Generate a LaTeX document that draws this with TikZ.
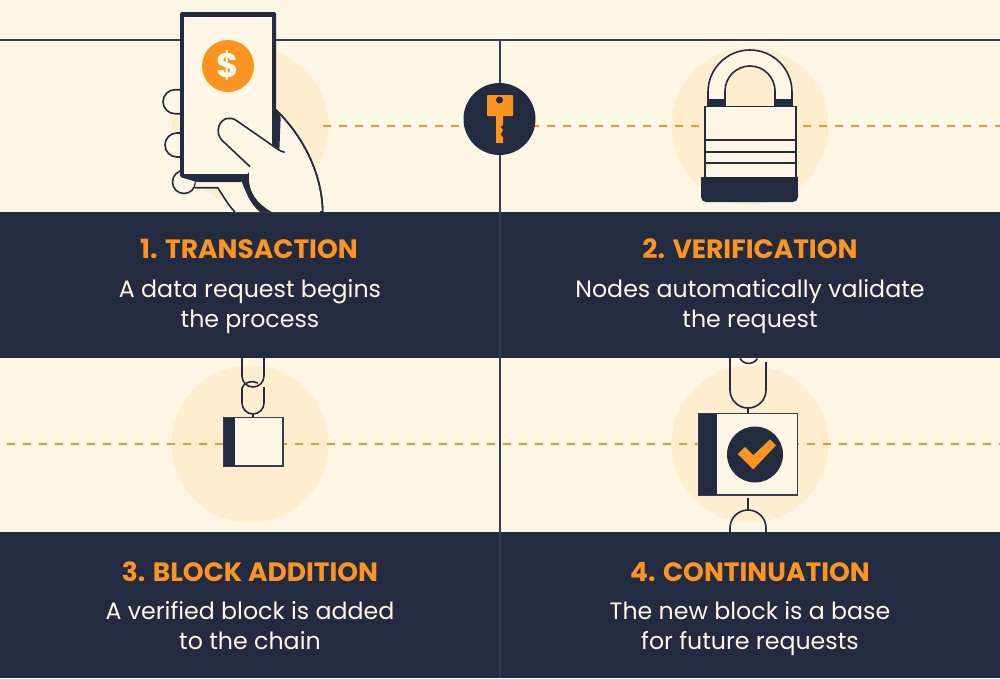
\documentclass[tikz,border=0pt]{standalone}
\usepackage{fontspec}
\setmainfont{Poppins}
\definecolor{paper}{HTML}{FFF6E5}
\definecolor{halo}{HTML}{FEEECF}
\definecolor{navy}{HTML}{222B40}
\definecolor{amber}{HTML}{FB9420}
\definecolor{rule}{HTML}{323C55}
\tikzset{
  ink/.style={draw=navy, line width=1.6pt, fill=none},
  haloDisc/.style={circle, fill=halo, minimum size=157pt, inner sep=0pt},
  panel/.style={fill=navy},
  dashline/.style={amber, line width=2pt, dash pattern=on 8pt off 8pt},
  steptitle/.style={text=amber, font=\bfseries\fontsize{26.5}{26.5}\selectfont},
  stepbody/.style={text=paper, align=center, font=\fontsize{23.7}{30}\selectfont}
}
\begin{document}
\begin{tikzpicture}[x=1pt,y=-1pt]
\useasboundingbox (0,0) rectangle (1000,678);
\fill[paper] (0,0) rectangle (1000,678);
% background discs
\node[haloDisc] (haloA) at (250,126) {};
\node[haloDisc] (haloB) at (750,126) {};
\node[haloDisc] (haloC) at (250,444) {};
\node[haloDisc] (haloD) at (750,444) {};
% rules
\draw[rule, line width=2pt] (0,39.5) -- (1000,39.5);
\draw[dashline] (323,126) -- (1000,126);
\draw[dashline] (7,444) -- (1000,444);
% panels
\foreach \y in {212,532} {
    \fill[panel] (0,\y) rectangle (1000,\y+146);
}
\draw[rule, line width=2pt] (500,39) -- (500,678);
% hand behind the phone
\draw[ink, fill=paper] (163,101.7) arc[radius=12, start angle=180, end angle=270] -- (182,89.7) -- (182,113.7) -- (175,113.7) arc[radius=12, start angle=90, end angle=180];
\draw[ink, fill=paper] (165,145) arc[radius=12, start angle=180, end angle=270] -- (182,133) -- (182,157) -- (177,157) arc[radius=12, start angle=90, end angle=180];
\draw[ink, fill=paper] (184,182) circle[radius=11.5];
\fill[paper] (196,181) -- (243,181) -- (272,212) -- (235,212) -- (218,188) -- (195,188) -- cycle;
\draw[ink] (195,187.7) -- (217.7,187.7) .. controls (224,197) and (228,205) .. (235,212);
\draw[ink, fill=paper] (276,110) .. controls (300,133) and (322,170) .. (322.7,212) -- (270,212) -- (250,170) -- cycle;
% phone
\fill[navy, rounded corners=1.5pt] (180,12) -- (276,12) -- (276,110) -- (280.7,116.7) -- (279.3,152) -- (272,146) -- (242,182) -- (197,182) -- (180,177) -- cycle;
\fill[paper] (184,17) rectangle (272,174);
\node[circle, fill=amber, minimum size=52pt, inner sep=0pt, text=paper, font=\bfseries\fontsize{34}{34}\selectfont] (coin) at (228,66) {\$};
% thumb and palm
\fill[navy] (241.7,181.7) -- (249,172) .. controls (248,192) and (256,202) .. (271.7,212) -- (260,212) .. controls (250,204) and (246,192) .. (241.7,181.7) -- cycle;
\fill[paper] (284.7,152.3) -- (271.7,145) -- (236.7,120.7) .. controls (230,116) and (222,118) .. (219,126) .. controls (217,132) and (219,137) .. (221.7,140) -- (250,166.7) -- (249.3,175) .. controls (248,192) and (256,202) .. (271.7,212) -- (320,212) -- (300,150) -- cycle;
\draw[ink] (284.7,152.3) .. controls (279,151) and (276,148) .. (271.7,145) -- (236.7,120.7) .. controls (230,116) and (222,118) .. (219,126) .. controls (217,132) and (219,137) .. (221.7,140) -- (250,166.7);
\draw[ink] (276,110) .. controls (300,133) and (322,170) .. (322.7,212);
% key
\node[circle, fill=navy, minimum size=72pt, inner sep=0pt] (keyDisc) at (499.5,119) {};
\fill[amber, rounded corners=0.8pt] (487,95) rectangle (513,116);
\fill[amber] (496,116) -- (503,116) -- (503,125) -- (500.5,127) -- (503,130) -- (500.5,135) -- (503,137) -- (503,143) -- (496,143) -- cycle;
\fill[navy] (499.5,100) circle[radius=3.5];
% padlock
\draw[ink, fill=paper] (708,106) -- (708,92) arc[radius=42, start angle=180, end angle=360] -- (792,106) -- (775,106) -- (775,91) arc[radius=25, start angle=0, end angle=-180] -- (725,106) -- cycle;
\fill[navy] (708,99) rectangle (725.5,106);
\fill[navy] (774.5,99) rectangle (792,106);
\draw[ink, fill=paper] (705,106.5) rectangle (796,178);
\foreach \y in {140,152,163} {
    \draw[ink] (705,\y) -- (796,\y);
}
\fill[navy, rounded corners=5pt] (701,185) -- (701,202) -- (798,202) -- (798,185) -- cycle;
\fill[navy] (701,177) rectangle (798,192);
% block with two links
\draw[ink] (264,358) -- (264,376) arc[radius=11, start angle=0, end angle=180] -- (242,358);
\draw[ink] (264,387) -- (264,403) arc[radius=11, start angle=0, end angle=180] -- (242,388) .. controls (244,382) and (252,380) .. (258,383);
\draw[ink] (253,414) -- (253,418);
\draw[rule, line width=1.6pt, fill=paper] (223.5,417.5) rectangle (283,466);
\fill[navy] (223.5,417.5) rectangle (235,466);
% block with check mark
\draw[ink] (766,362) -- (766,390) arc[radius=18, start angle=0, end angle=180] -- (730,358);
\draw[ink] (740,358.5) arc[radius=10, start angle=150, end angle=30];
\draw[ink] (748,408) -- (748,414);
\draw[rule, line width=1.6pt, fill=paper] (699,413.5) rectangle (797.5,495);
\fill[navy] (699,413.5) rectangle (717,495);
\node[circle, fill=navy, minimum size=56pt, inner sep=0pt] (checkDisc) at (755,454.5) {};
\fill[amber] (737.7,454) -- (745,447) -- (753.3,455.3) -- (770,439.3) -- (776,445.3) -- (753.3,469.3) -- cycle;
\draw[ink] (748,498) -- (748,510);
\draw[ink] (730,532) -- (730,528) arc[radius=18, start angle=180, end angle=360] -- (766,532);
% captions
\node[steptitle] (titleA) at (249,249) {1. TRANSACTION};
\node[stepbody] (bodyA) at (250,307) {A data request begins\\the process};
\node[steptitle] (titleB) at (750,249) {2. VERIFICATION};
\node[stepbody] (bodyB) at (750,307) {Nodes automatically validate\\the request};
\node[steptitle] (titleC) at (250,572) {3. BLOCK ADDITION};
\node[stepbody] (bodyC) at (250,626) {A verified block is added\\to the chain};
\node[steptitle] (titleD) at (750,572) {4. CONTINUATION};
\node[stepbody] (bodyD) at (750,629) {The new block is a base\\for future requests};
\end{tikzpicture}
\end{document}
